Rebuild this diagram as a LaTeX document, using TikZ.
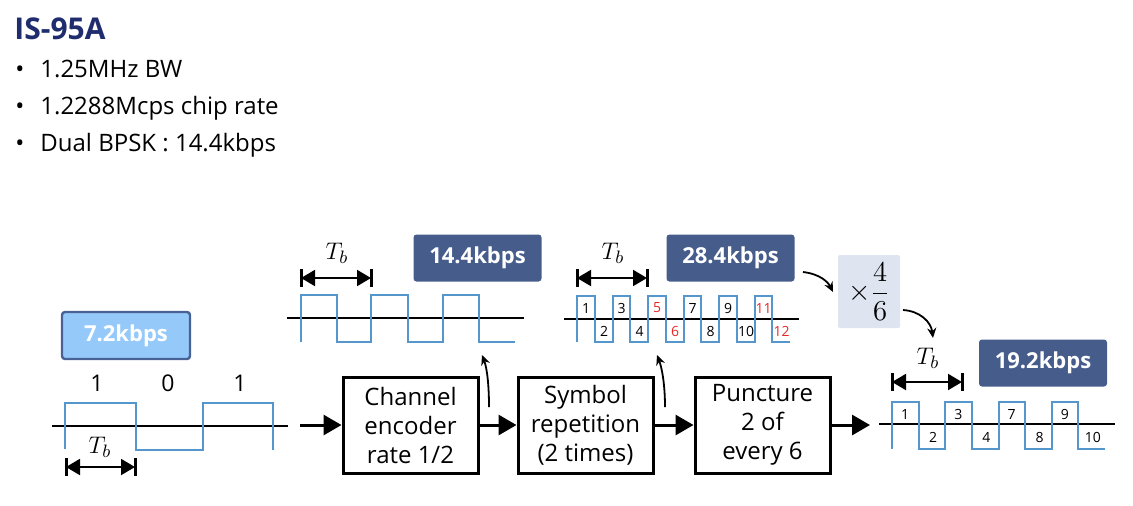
\documentclass[tikz,border=0pt]{standalone}
\usepackage{amsmath}
\usepackage[no-math]{fontspec}
\setmainfont{Open Sans}
\usetikzlibrary{arrows.meta}
\definecolor{TitleNavy}{RGB}{31,45,110}
\definecolor{WaveBlue}{RGB}{85,150,205}
\definecolor{RateDark}{RGB}{70,93,140}
\definecolor{RateLight}{RGB}{148,201,250}
\definecolor{RateEdge}{RGB}{72,98,150}
\definecolor{FracGray}{RGB}{222,228,240}
\definecolor{PuncRed}{RGB}{230,40,40}

\begin{document}
\begin{tikzpicture}[x=0.5pt, y=-0.5pt,
    blockbox/.style={rectangle, draw=black, line width=1.5pt,
                 minimum width=67.5pt, minimum height=48pt, inner sep=1pt,
                 align=center, font=\fontsize{12}{14.5}\selectfont},
    ratebox/.style={rectangle, fill=RateDark, rounded corners=1.5pt,
                 minimum width=64pt, minimum height=23.5pt, text=white,
                 font=\fontsize{11}{12}\selectfont\bfseries},
    bullettext/.style={anchor=base west, inner sep=0pt, font=\fontsize{12}{14}\selectfont},
    tblabel/.style={font=\fontsize{13}{15}\selectfont, inner sep=0pt},
    numlabel/.style={font=\fontsize{7}{8}\selectfont, inner sep=0pt},
    wave/.style={draw=WaveBlue, line width=1pt},
    axis/.style={line width=1.3pt},
    tbarrow/.style={{Triangle[length=7pt,width=8pt]}-{Triangle[length=7pt,width=8pt]}, line width=1pt},
    tbbar/.style={line width=1.5pt},
    arrow/.style={-{Triangle[length=9pt,width=10pt]}, line width=1.5pt},
    curvearrow/.style={-{Stealth[length=5pt,width=4.5pt]}, line width=0.9pt}
]
    \useasboundingbox (0,0) rectangle (1133,505);

    % header
    \node[anchor=base west, inner sep=0pt, text=TitleNavy,
          font=\fontsize{15}{18}\selectfont\bfseries] (title) at (14,39) {IS-95A};
    \foreach \t/\y [count=\k] in {1.25MHz BW/77, 1.2288Mcps chip rate/114, Dual BPSK : 14.4kbps/151} {
        \node[anchor=base, inner sep=0pt, font=\fontsize{12}{14}\selectfont] (dot\k) at (20,\y) {•};
        \node[bullettext] (item\k) at (40,\y) {\t};
    }

    % input bits
    \node[ratebox, fill=RateLight, draw=RateEdge, line width=1.2pt] (r72) at (126,335.5) {7.2kbps};
    \foreach \b/\x [count=\k] in {1/97, 0/168, 1/240}
        \node[font=\fontsize{11.5}{13}\selectfont, inner sep=0pt] (bit\k) at (\x,383) {\b};
    \draw[axis] (52,426) -- (288,426);
    \draw[wave] (65,449) -- (65,403) -- (136,403) -- (136,450) -- (203,450) -- (203,403) -- (273,403) -- (273,450);
    \node[tblabel] (tb0) at (100,447) {$T_b$};
    \draw[tbarrow] (66,467) -- (135,467);
    \draw[tbbar] (66,458) -- (66,476);
    \draw[tbbar] (135,458) -- (135,476);

    % blocks
    \node[blockbox] (enc) at (410.5,425) {Channel\\encoder\\rate 1/2};
    \node[blockbox] (rep) at (585.5,425) {Symbol\\repetition\\(2 times)};
    \node[blockbox] (pun) at (762.5,425) {Puncture\\2 of\\every 6};
    \coordinate (src) at (300,425);
    \coordinate (dst) at (870,425);
    \draw[arrow] (src) -- (enc);
    \draw[arrow] (enc) -- (rep);
    \draw[arrow] (rep) -- (pun);
    \draw[arrow] (pun) -- (dst);

    % after encoder: 14.4kbps
    \node[ratebox] (r144) at (477.5,258) {14.4kbps};
    \draw[axis] (287,318) -- (524,318);
    \draw[wave] (301,342) -- (301,295) -- (337,295) -- (337,342) -- (371,342) -- (371,295) -- (408,295)
        -- (408,342) -- (443,342) -- (443,295) -- (479,295) -- (479,342) -- (515,342);
    \node[tblabel] (tb1) at (337,253) {$T_b$};
    \draw[tbarrow] (301,278) -- (371,278);
    \draw[tbbar] (301,269) -- (301,287);
    \draw[tbbar] (371,269) -- (371,287);
    \coordinate (up1a) at (489,407);
    \coordinate (up1b) at (482,355);
    \draw[curvearrow] (up1a) .. controls (489,385) and (487,368) .. (up1b);

    % after repetition: 28.4kbps
    \node[ratebox] (r284) at (730.5,258) {28.4kbps};
    \draw[axis] (564,319) -- (799,319);
    \draw[wave] (577,342) \foreach \i in {0,...,5} {
        -- ({577+35.5*\i},296) -- ({594.75+35.5*\i},296) -- ({594.75+35.5*\i},342) -- ({612.5+35.5*\i},342)};
    \foreach \n/\c [count=\i from 0] in {1/black, 3/black, 5/PuncRed, 7/black, 9/black, 11/PuncRed}
        \node[numlabel, text=\c] (ra\n) at ({586+35.5*\i},308) {\n};
    \foreach \n/\c [count=\i from 0] in {2/black, 4/black, 6/PuncRed, 8/black, 10/black, 12/PuncRed}
        \node[numlabel, text=\c] (ra\n) at ({604+35.5*\i},331) {\n};
    \node[tblabel] (tb2) at (613,253) {$T_b$};
    \draw[tbarrow] (577,278) -- (647,278);
    \draw[tbbar] (577,269) -- (577,287);
    \draw[tbbar] (647,269) -- (647,287);
    \coordinate (up2a) at (665,407);
    \coordinate (up2b) at (657,355);
    \draw[curvearrow] (up2a) .. controls (665,385) and (662,368) .. (up2b);

    % ratio
    \node[rectangle, fill=FracGray, rounded corners=1pt, minimum width=31pt, minimum height=36.5pt,
          inner sep=0pt, font=\fontsize{15}{17}\selectfont] (ratio) at (869,291.5) {$\times\dfrac{4}{6}$};
    \coordinate (c1a) at (803,272);
    \coordinate (c1b) at (833,292);
    \draw[curvearrow] (c1a) .. controls (820,274) and (828,282) .. (c1b);
    \coordinate (c2a) at (903,310);
    \coordinate (c2b) at (933,338);
    \draw[curvearrow] (c2a) .. controls (920,311) and (931,322) .. (c2b);

    % after puncture: 19.2kbps
    \node[ratebox] (r192) at (1043,363) {19.2kbps};
    \draw[axis] (879,424) -- (1115,424);
    \draw[wave] (892,449) \foreach \i in {0,...,3} {
        -- ({892+53.25*\i},402) -- ({918.6+53.25*\i},402) -- ({918.6+53.25*\i},449) -- ({945.25+53.25*\i},449)};
    \foreach \n [count=\i from 0] in {1,3,7,9}
        \node[numlabel] (pu\n) at ({905+53.25*\i},414) {\n};
    \foreach \n [count=\i from 0] in {2,4,8,10}
        \node[numlabel] (pu\n) at ({933+53.25*\i},437) {\n};
    \node[tblabel] (tb3) at (928,358) {$T_b$};
    \draw[tbarrow] (892,382) -- (962,382);
    \draw[tbbar] (892,373) -- (892,391);
    \draw[tbbar] (962,373) -- (962,391);
\end{tikzpicture}
\end{document}
